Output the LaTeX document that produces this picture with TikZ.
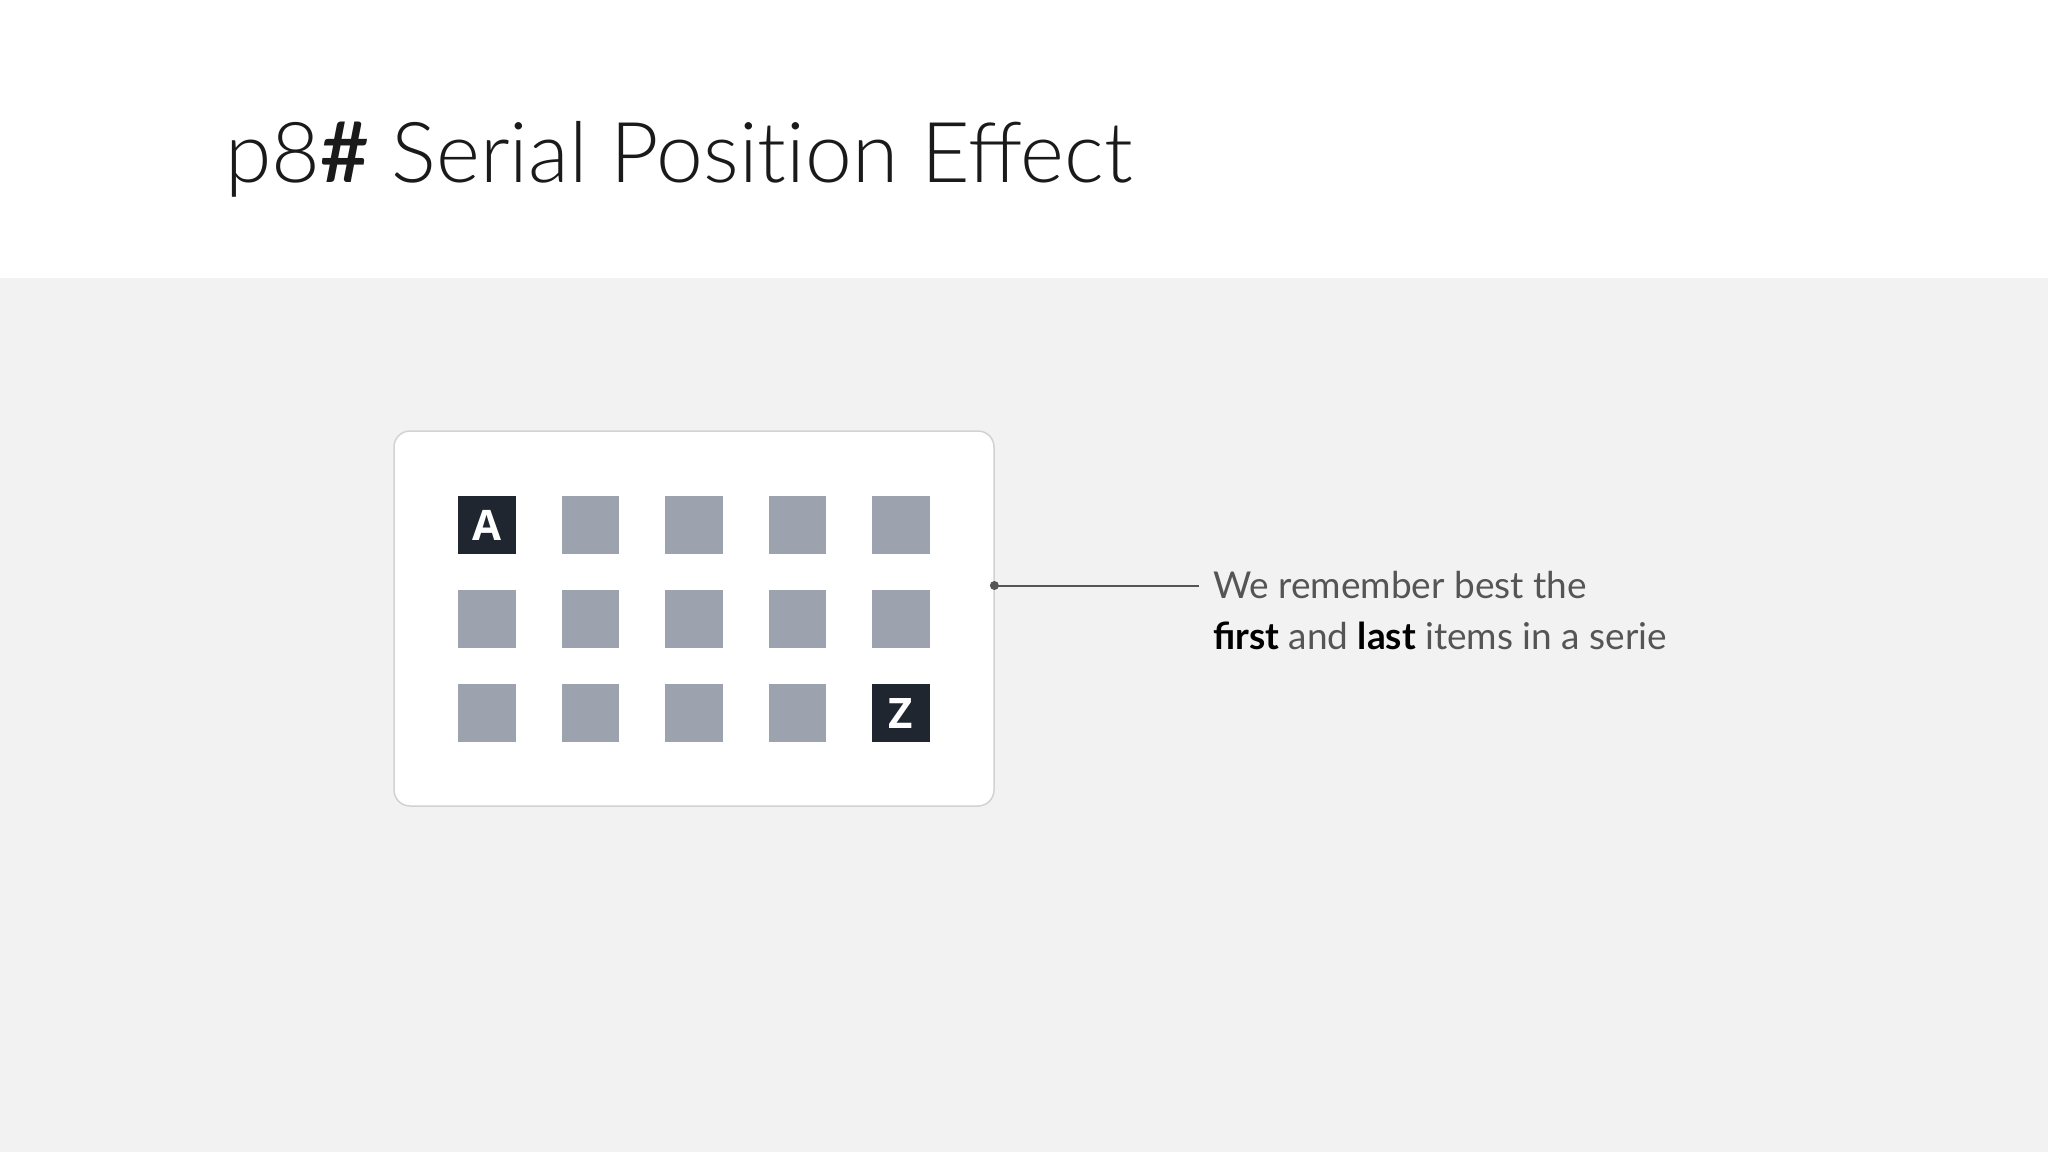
\documentclass[tikz,border=0pt]{standalone}
\usepackage{fontspec}
\setmainfont{Lato}
\newfontfamily\titlefont{Lato Light}
\newfontfamily\letterfont{Open Sans}
\definecolor{bgc}{HTML}{F2F2F3}
\definecolor{cardborder}{HTML}{D2D2D4}
\definecolor{sq}{HTML}{9CA3AF}
\definecolor{sqdark}{HTML}{1F2630}
\definecolor{linec}{HTML}{555555}
\definecolor{txtc}{HTML}{555555}
\definecolor{titlec}{HTML}{1A1A1A}
\begin{document}
\begin{tikzpicture}[x=1pt,y=-1pt,
  item/.style={minimum width=57.5pt,minimum height=57.5pt,inner sep=0pt,outer sep=0pt,fill=sq,anchor=north west},
  darkitem/.style={item,fill=sqdark,text=white,font=\letterfont\bfseries\fontsize{42}{42}\selectfont},
  card/.style={draw=cardborder,line width=1.5pt,fill=white,rounded corners=16pt}]
\useasboundingbox (0,0) rectangle (2048,1152);
\fill[bgc] (0,0) rectangle (2048,1152);
\fill[white] (0,0) rectangle (2048,278);
\node[anchor=base west,inner sep=0pt,text=titlec,font=\titlefont\fontsize{84}{84}\selectfont] (title) at (225,182) {p8{\bfseries\#} Serial Posit\kern0pt ion Effect};
\draw[card] (394,431) rectangle (994,806);
\node[minimum width=600pt,minimum height=375pt,anchor=north west,inner sep=0pt] (cardn) at (394,431) {};
\foreach \r in {0,1,2}{
  \foreach \c in {0,...,4}{
    \pgfmathsetmacro{\xx}{458.4+103.5*\c}
    \pgfmathsetmacro{\yy}{496.3+94*\r}
    \node[item] (s\r\c) at (\xx,\yy) {};
  }
}
\node[darkitem] (A) at (458.4,496.3) {A};
\node[darkitem] (Z) at (872.4,684.3) {Z};
\coordinate (ls) at (cardn.east |- 0,585.5);
\coordinate (le) at (1199,585.5);
\draw[linec,line width=2pt] (ls) -- (le);
\fill[linec] (ls) circle (4.5pt);
\node[anchor=base west,inner sep=0pt,text=txtc,font=\fontsize{37}{51}\selectfont,align=left] (caption) at (1213,649)
 {We remember best the\\{\color{black}\bfseries first} and {\color{black}\bfseries last} items in a serie};
\end{tikzpicture}
\end{document}
